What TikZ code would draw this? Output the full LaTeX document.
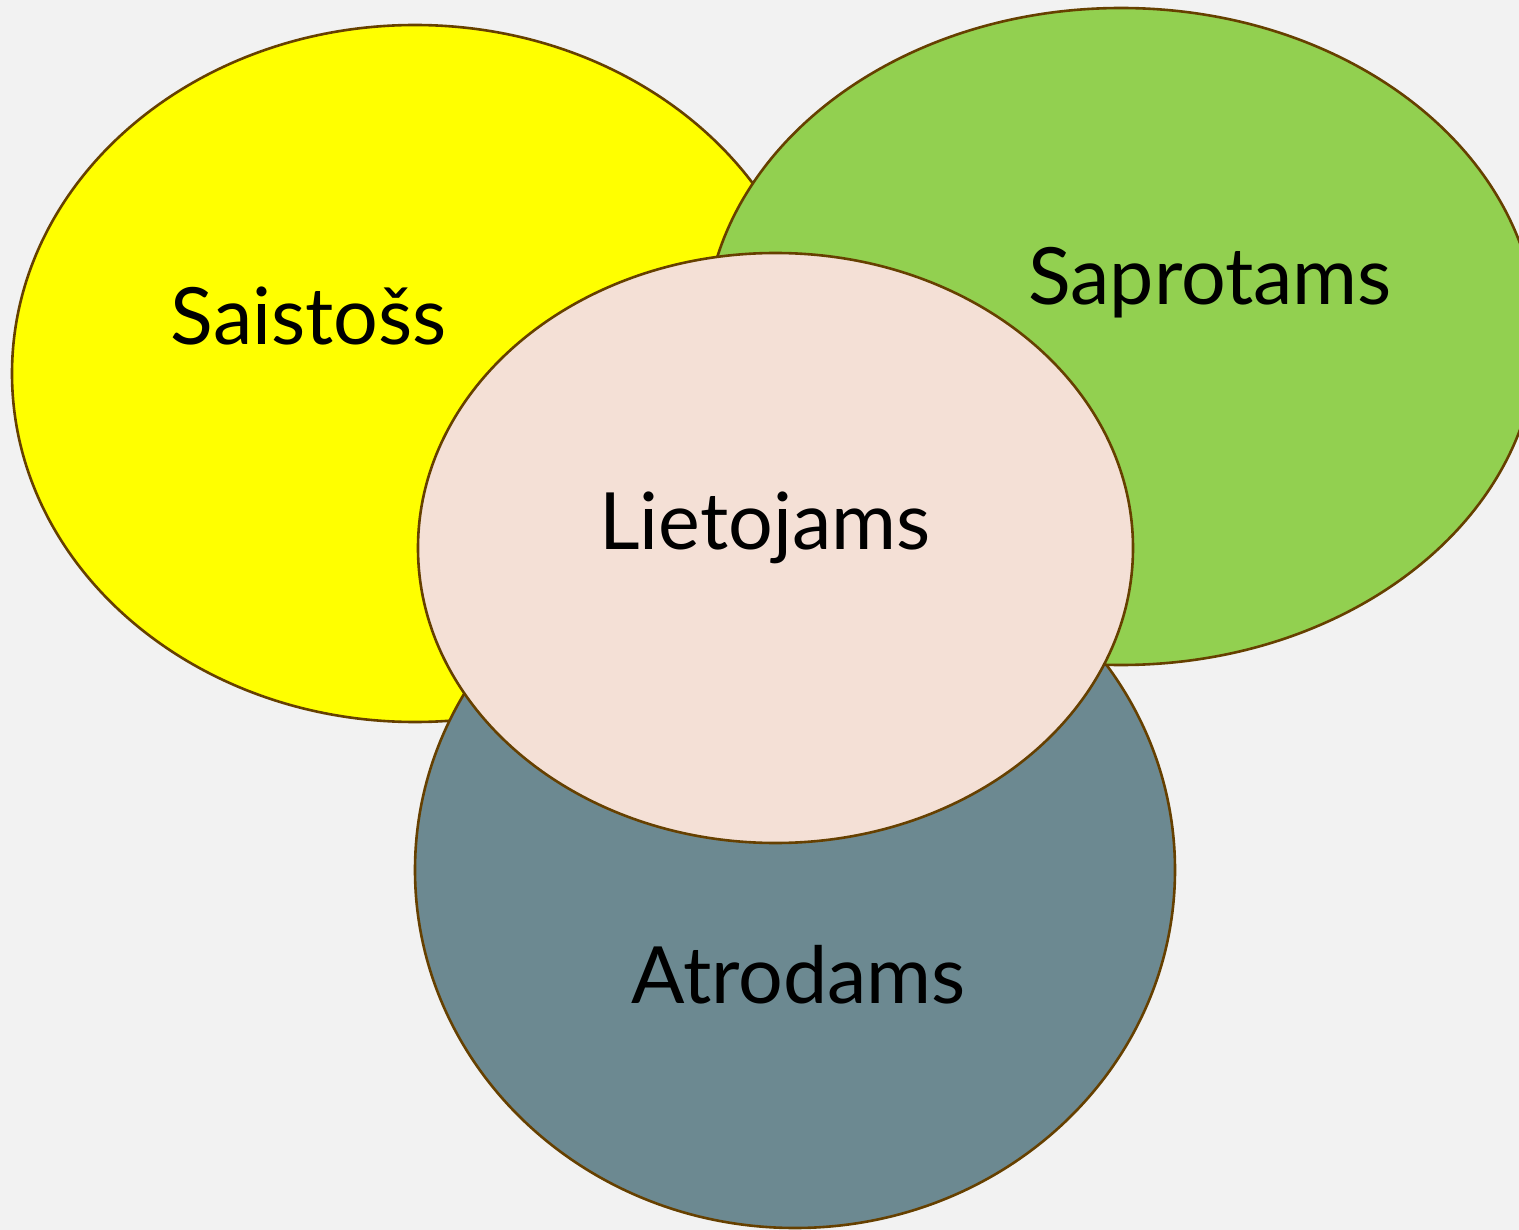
\documentclass[tikz,border=0pt]{standalone}
\usepackage{fontspec}
\setmainfont{Lato}
\definecolor{bgray}{RGB}{242,242,242}
\definecolor{edgebrown}{RGB}{102,64,0}
\definecolor{setyellow}{RGB}{255,255,0}
\definecolor{setgreen}{RGB}{146,208,80}
\definecolor{setgrey}{RGB}{108,137,145}
\definecolor{setpink}{RGB}{244,224,214}
\tikzset{
  setshape/.style={draw=edgebrown, line width=2.6pt},
  setlabel/.style={anchor=base, inner sep=0pt, font=\fontsize{79}{84}\selectfont},
}
\begin{document}
\begin{tikzpicture}[x=1pt, y=-1pt]
	%
	\fill[bgray] (0,0) rectangle (1519,1230);
	\useasboundingbox (0,0) rectangle (1519,1230);
	\clip (0,0) rectangle (1519,1230);
	%
	% yellow, grey, green, then pink on top
	\foreach \name/\cx/\cy/\rx/\ry/\col in {saistoss/415/373.5/403/348.5/setyellow,
		atrodams/795/870/380/358/setgrey,
		saprotams/1121/336.5/416/328.5/setgreen,
		lietojams/775.5/548/357.5/295/setpink}
		\draw[setshape, fill=\col] (\cx,\cy) ellipse [x radius=\rx, y radius=\ry];
	%
	\node[setlabel] (tsaistoss) at (309,345) {Saistošs};
	\node[setlabel] (tsaprotams) at (1210,305) {Saprotams};
	\node[setlabel] (tlietojams) at (765,550) {Lietojams};
	\node[setlabel] (tatrodams) at (799,1003) {Atrodams};
\end{tikzpicture}
\end{document}
